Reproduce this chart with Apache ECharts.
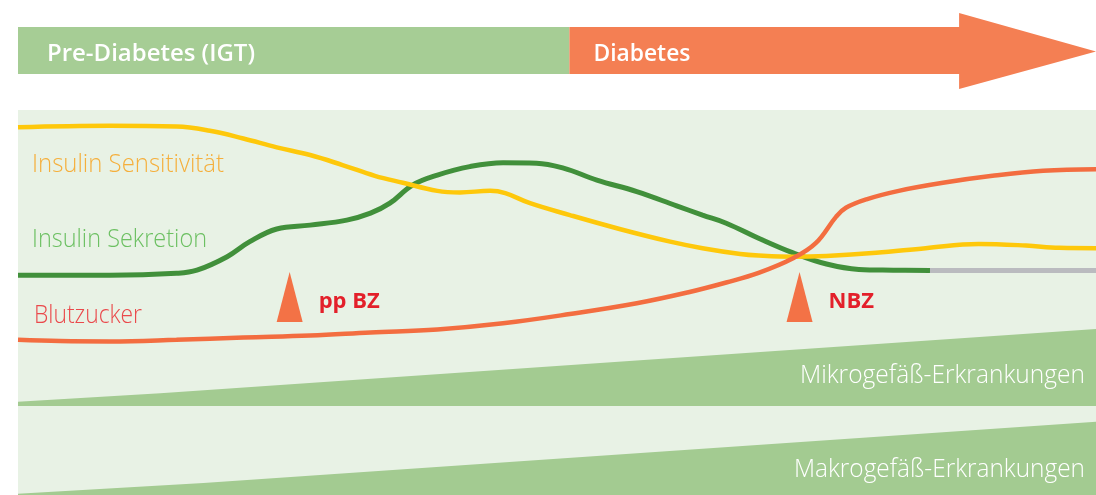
<!DOCTYPE html>
<html>
<head>
<meta charset="utf-8">
<script src="https://cdn.jsdelivr.net/npm/echarts@6/dist/echarts.min.js"></script>
<style>
  html, body { margin: 0; padding: 0; background: #fff; }
  #chart { width: 1096px; height: 495px; }
</style>
</head>
<body>
<div id="chart"></div>
<script>
// x = disease progression 0..100, y = level 0..100 (panel height)
const phases = [
  ["Pre-Diabetes (IGT)", 0, 51.15],
  ["Diabetes", 51.15, 100]
]
const arrowHeadStart = 87.3

const sensitivity = [[0,95.5],[8.5,95.9],[14.7,95.7],[17.8,94.6],[20.9,92.6],[24.0,90.3],[27.1,88.3],[30.1,85.7],[33.1,82.9],[35.7,81.1],[38.9,79.0],[41.0,78.6],[43.8,79.0],[45.2,78.4],[47.5,75.8],[51.2,72.7],[55.8,69.1],[60.5,65.8],[63.5,64.1],[67.0,62.6],[68.7,62.2],[71.9,61.9],[75.0,62.1],[79.6,62.9],[84.2,64.1],[89.1,65.2],[93.5,64.8],[96.6,64.2],[100,64.1]]
const secretion = [[0,57.1],[8.5,57.1],[14.7,57.6],[16.6,58.4],[19.4,61.9],[21.5,65.8],[24.0,69.1],[27.1,70.1],[30.5,71.4],[32.7,73.2],[34.5,75.8],[36.6,80.5],[38.9,83.1],[41.9,85.3],[45.0,86.3],[48.1,86.2],[50.6,84.9],[53.7,81.8],[57.4,78.8],[61.1,75.1],[63.5,72.7],[65.7,70.6],[68.7,66.7],[71.9,62.9],[75.0,60.0],[78.0,58.6],[81.2,58.4],[84.6,58.3]]
const secretionLost = [[84.6,58.3],[100,58.3]]
const glucose = [[0,40.3],[3.9,40.0],[8.5,39.9],[14.7,40.3],[20.9,40.9],[27.1,41.4],[32.7,42.2],[38.9,43.0],[45.0,44.6],[51.2,47.0],[57.4,49.8],[62.1,52.6],[65.7,55.2],[68.7,57.7],[71.9,61.5],[74.0,65.4],[75.9,72.3],[76.8,74.6],[78.7,76.8],[81.7,79.0],[85.8,81.1],[90.4,82.9],[95.1,84.2],[100,84.6]]
const micro = [[0,24.2],[13.2,26.4],[54,34.3],[100,43.1]]
const microBase = 23.1
const macro = [[0,0.3],[17.2,3.1],[100,19.0]]
const markers = [["pp BZ", 25.2, 51.45], ["NBZ", 72.5, 51.45]]

const lightFont = "'Open Sans', 'Noto Sans', sans-serif"

// squeeze text horizontally to the width it has in the reference
const measureCtx = document.createElement("canvas").getContext("2d")
function fitScale(text, font, width) {
  measureCtx.font = font
  return width / measureCtx.measureText(text).width
}

// y is the baseline; zrender places text by its top
function label(text, color, x, y, w, align) {
  const font = "300 25px " + lightFont
  return {
    type: "text",
    x: x,
    y: y - 20,
    z: 100,
    scaleX: fitScale(text, font, w),
    silent: true,
    style: {
      x: 0,
      y: 0,
      text: text,
      fill: color,
      font: font,
      align: align || "left",
      verticalAlign: "top"
    }
  }
}

const chart = echarts.init(document.getElementById("chart"))

const option = {
  animation: false,
  backgroundColor: "#ffffff",
  grid: [
    { left: 18, right: 0, top: 12, height: 77 },
    { left: 18, right: 0, top: 110, bottom: 0, show: true, backgroundColor: "#e8f2e5", borderWidth: 0 }
  ],
  xAxis: [
    { gridIndex: 0, type: "value", min: 0, max: 100, show: false },
    { gridIndex: 1, type: "value", min: 0, max: 100, show: false }
  ],
  yAxis: [
    { gridIndex: 0, type: "value", min: 0, max: 1, show: false },
    { gridIndex: 1, type: "value", min: 0, max: 100, show: false }
  ],
  series: [
    {
      type: "custom",
      xAxisIndex: 0,
      yAxisIndex: 0,
      silent: true,
      data: phases,
      renderItem: (params, api) => {
        const cs = params.coordSys
        const x0 = api.coord([api.value(1), 0])[0]
        const x1 = api.coord([api.value(2), 0])[0]
        const top = cs.y + 15
        const bottom = cs.y + 62
        const mid = (top + bottom) / 2
        const last = params.dataIndex === phases.length - 1
        const color = last ? "#f47f53" : "#a6cd95"
        let shape
        if (last) {
          const xh = api.coord([arrowHeadStart, 0])[0]
          shape = {
            type: "polygon",
            shape: { points: [[x0, top], [xh, top], [xh, cs.y + 1], [x1, mid + 1], [xh, cs.y + 77], [xh, bottom], [x0, bottom]] },
            style: { fill: color }
          }
        } else {
          shape = { type: "rect", shape: { x: x0, y: top, width: x1 - x0, height: bottom - top }, style: { fill: color } }
        }
        const name = phases[params.dataIndex][0]
        const font = "600 23px " + lightFont
        const w = last ? 97 : 208
        return {
          type: "group",
          children: [
            shape,
            {
              type: "text",
              x: x0 + (last ? 24 : 29),
              y: 61 - 18.5,
              scaleX: fitScale(name, font, w),
              style: { x: 0, y: 0, text: name, font: font, fill: "#ffffff", verticalAlign: "top" }
            }
          ]
        }
      }
    },
    {
      type: "line",
      xAxisIndex: 1,
      yAxisIndex: 1,
      data: macro,
      symbol: "none",
      silent: true,
      lineStyle: { width: 0 },
      areaStyle: { color: "#a3cb91", opacity: 1, origin: 0 }
    },
    {
      type: "line",
      xAxisIndex: 1,
      yAxisIndex: 1,
      data: micro,
      symbol: "none",
      silent: true,
      lineStyle: { width: 0 },
      areaStyle: { color: "#a3cb91", opacity: 1, origin: microBase }
    },
    {
      name: "Insulin Sekretion",
      type: "line",
      xAxisIndex: 1,
      yAxisIndex: 1,
      data: secretion,
      symbol: "none",
      smooth: 0.4,
      silent: true,
      lineStyle: { color: "#41903b", width: 5 }
    },
    {
      type: "line",
      xAxisIndex: 1,
      yAxisIndex: 1,
      data: secretionLost,
      symbol: "none",
      silent: true,
      lineStyle: { color: "#babbbf", width: 5 }
    },
    {
      name: "Insulin Sensitivität",
      type: "line",
      xAxisIndex: 1,
      yAxisIndex: 1,
      data: sensitivity,
      symbol: "none",
      smooth: 0.4,
      silent: true,
      lineStyle: { color: "#fec80b", width: 4.5 }
    },
    {
      name: "Blutzucker",
      type: "line",
      xAxisIndex: 1,
      yAxisIndex: 1,
      data: glucose,
      symbol: "none",
      smooth: 0.4,
      silent: true,
      lineStyle: { color: "#f36d40", width: 4.5 }
    },
    {
      type: "scatter",
      xAxisIndex: 1,
      yAxisIndex: 1,
      data: markers.map(m => ({ name: m[0], value: [m[1], m[2]] })),
      symbol: "triangle",
      symbolSize: [26, 50],
      silent: true,
      itemStyle: { color: "#f37246", opacity: 1 },
      label: {
        show: true,
        position: "right",
        distance: 16,
        offset: [0, 5],
        formatter: "{b}",
        color: "#e3202a",
        fontSize: 22,
        fontWeight: "bold",
        fontFamily: lightFont
      }
    }
  ],
  graphic: [
    label("Insulin Sensitivität", "#f5af3c", 32, 172, 192),
    label("Insulin Sekretion", "#6cc062", 32, 247, 175),
    label("Blutzucker", "#ea494b", 34, 323, 108),
    label("Mikrogefäß-Erkrankungen", "#ffffff", 1085, 383, 285, "right"),
    label("Makrogefäß-Erkrankungen", "#ffffff", 1085, 477, 291, "right")
  ]
}

chart.setOption(option)
window.addEventListener("resize", () => chart.resize())
</script>
</body>
</html>
